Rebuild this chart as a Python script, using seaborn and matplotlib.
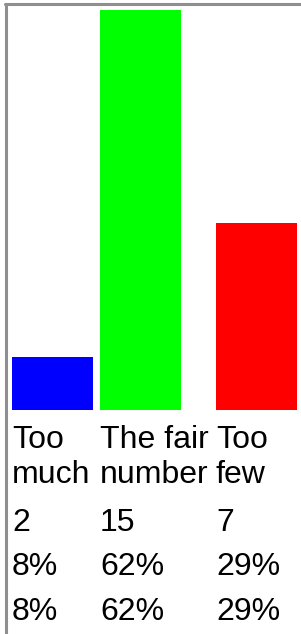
import matplotlib
matplotlib.use("Agg")
import matplotlib.pyplot as plt
import seaborn as sns
from matplotlib.lines import Line2D

sns.set_style("white")
plt.rcParams["font.family"] = ["Liberation Sans", "DejaVu Sans"]
plt.rcParams["text.color"] = "black"

# data
answers = ["Too\nmuch", "The fair\nnumber", "Too\nfew"]
counts = [2, 15, 7]
bar_colors = ["#0000ff", "#00ff00", "#ff0000"]

# layout (pixels)
W, H = 301, 634
col_left = [12, 100, 216]
col_width = 81
bar_bottom = 410
bar_area = 400
font_px = 32
label_baselines = [448, 483]
count_baseline = 531
pct_baselines = [575, 620]

fig = plt.figure(figsize=(W / 100, H / 100), dpi=100)
fig.patch.set_facecolor("white")

total = sum(counts)
ymax = max(counts)
fs = font_px * 72 / 100

for left, name, n, color in zip(col_left, answers, counts, bar_colors):
    ax = fig.add_axes([left / W, (H - bar_bottom) / H, col_width / W, bar_area / H])
    sns.barplot(x=[name], y=[n], color=color, saturation=1, width=1,
                linewidth=0, ax=ax)
    ax.set_xlim(-0.5, 0.5)
    ax.set_ylim(0, ymax)
    ax.axis("off")

    for line, base in zip(name.split("\n"), label_baselines):
        fig.text(left / W, 1 - base / H, line, fontsize=fs, va="baseline", ha="left")
    fig.text(left / W, 1 - count_baseline / H, str(n), fontsize=fs, va="baseline", ha="left")
    pct = f"{int(100 * n / total)}%"
    for base in pct_baselines:
        fig.text(left / W, 1 - base / H, pct, fontsize=fs, va="baseline", ha="left")

# frame on the left and top edges
fig.add_artist(Line2D([6 / W, 6 / W], [0, 1 - 4 / H], color="#8f8f8f", linewidth=2.2))
fig.add_artist(Line2D([5 / W, 1], [1 - 4 / H, 1 - 4 / H], color="#8f8f8f", linewidth=2.2))

fig.savefig("out.png", dpi=100, facecolor="white")
